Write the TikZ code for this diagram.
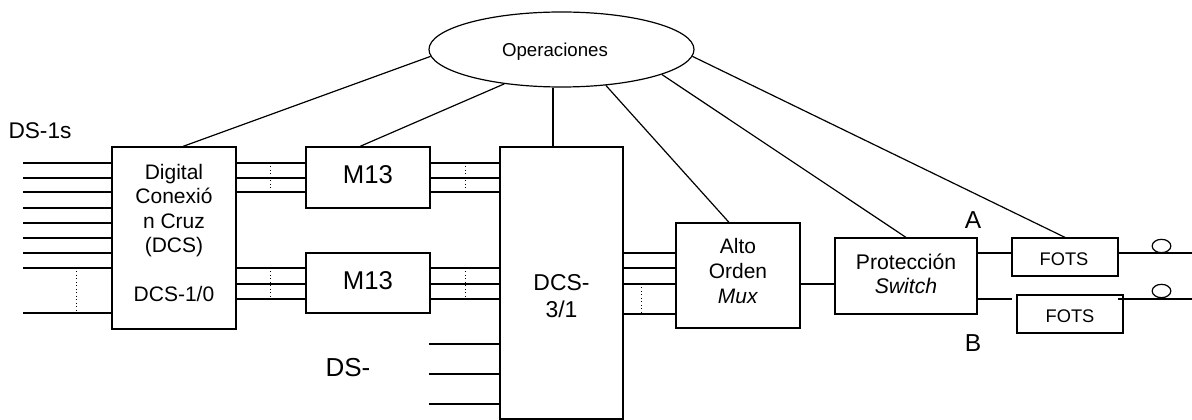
\documentclass[tikz,border=0pt]{standalone}
\usepackage{fontspec}
\setmainfont{Liberation Sans}
\usetikzlibrary{calc,shapes.geometric}
\newcommand{\fs}[2]{\fontsize{#1}{#2}\selectfont}
\begin{document}
\begin{tikzpicture}[x=0.75pt,y=-0.75pt,
  wire/.style={line width=0.9pt},
  dots/.style={line width=0.6pt, dotted},
  blk/.style={draw, line width=0.9pt, rectangle, inner sep=0pt},
  lbl/.style={inner sep=0pt, align=center},
]
\useasboundingbox[fill=white] (0,0) rectangle (1192,420);

% --- blocks ---
\node[draw, ellipse, line width=0.9pt, inner sep=0pt,
      minimum width=198.75pt, minimum height=56.25pt] (ops) at (561.5,49.5) {};
\node[blk, minimum width=93pt,    minimum height=136.5pt] (dcs10) at (174,238) {};
\node[blk, minimum width=93pt,    minimum height=45.75pt] (m13a)  at (368,177.5) {};
\node[blk, minimum width=93pt,    minimum height=45pt]    (m13b)  at (368,283) {};
\node[blk, minimum width=92.25pt, minimum height=204pt]   (dcs31) at (561.5,283) {};
\node[blk, minimum width=93pt,    minimum height=78.75pt] (alto)  at (738,275.5) {};
\node[blk, minimum width=106.5pt, minimum height=57pt]    (prot)  at (906,276) {};
\node[blk, minimum width=79.5pt,  minimum height=28.5pt]  (fotsa) at (1065,257) {};
\node[blk, line width=1.5pt, minimum width=79.5pt, minimum height=28.5pt] (fotsb) at (1070,314) {};

% --- texts ---
\node[lbl, font=\fs{14}{16.8}] (opst) at (555,52) {Operaciones};
\node[lbl, font=\fs{15.75}{18.4}] (dcs10t) at (174,233)
  {Digital\\Conexió\\n Cruz\\(DCS)\\[18.4pt]DCS-1/0};
\node[lbl, font=\fs{19.3}{23}] (m13at) at (368,175) {M13};
\node[lbl, font=\fs{19.3}{23}] (m13bt) at (368,281) {M13};
\node[lbl, font=\fs{17.2}{20.25}] (dcs31t) at (561.5,296) {DCS-\\3/1};
\node[lbl, font=\fs{15.7}{18.75}] (altot) at (738,271) {Alto\\Orden\\\textit{Mux}};
\node[lbl, font=\fs{15.9}{18}] (prott) at (906,274) {Protección\\\textit{Switch}};
\node[lbl, font=\fs{13.7}{16}] (fotsat) at (1064,259) {FOTS};
\begin{scope}
  \clip (1017,295) rectangle (1123,322);
  \node[lbl, font=\fs{13.7}{16}] (fotsbt) at (1070,316) {FOTS};
\end{scope}
\node[lbl, font=\fs{17}{20}] (ds1) at (40,131) {DS-1s};
\node[lbl, font=\fs{19.5}{23}] (ds3) at (348,368) {DS-};
\node[lbl, font=\fs{18.4}{22}] (la) at (973,220) {A};
\node[lbl, font=\fs{18.4}{22}] (lb) at (973,343) {B};

% --- management links to Operaciones ---
\draw[wire] ($(dcs10.north)+(9,0)$) -- (ops.183);
\draw[wire] ($(m13a.north)+(-8,0)$) -- (ops.211);
\draw[wire] ($(dcs31.north)+(-8.5,0)$) coordinate (v) -- (v |- ops.south);
\draw[wire] ($(alto.north)+(-9,0)$) -- (ops.321);
\draw[wire] (prot.north) -- (ops.346);
\draw[wire] (fotsa.north) -- (ops.357);

% --- DS-1 inputs ---
\coordinate (lin) at (23,0);
\foreach \y in {163,178,192,208,223,238,253,268,313}
  \draw[wire] (lin |- 0,\y) -- (dcs10.west |- 0,\y);
\draw[dots] (76,268) -- (76,313);

% --- DCS-1/0 to M13 ---
\foreach \y in {163,178,192}
  \draw[wire] (dcs10.east |- 0,\y) -- (m13a.west |- 0,\y);
\foreach \y in {268,284,299}
  \draw[wire] (dcs10.east |- 0,\y) -- (m13b.west |- 0,\y);
\draw[dots] (270,163) -- (270,192);
\draw[dots] (270,268) -- (270,299);

% --- M13 to DCS-3/1 ---
\foreach \y in {163,178,192}
  \draw[wire] (m13a.east |- 0,\y) -- (dcs31.west |- 0,\y);
\foreach \y in {268,284,299}
  \draw[wire] (m13b.east |- 0,\y) -- (dcs31.west |- 0,\y);
\draw[dots] (465,163) -- (465,192);
\draw[dots] (465,268) -- (465,299);

% --- DS-3 inputs ---
\coordinate (lds) at (429,0);
\foreach \y in {344,374,404}
  \draw[wire] (lds |- 0,\y) -- (dcs31.west |- 0,\y);

% --- DCS-3/1 to high order mux ---
\foreach \y in {253,268,284,314}
  \draw[wire] (dcs31.east |- 0,\y) -- (alto.west |- 0,\y);
\draw[dots] (641,284) -- (641,314);

% --- mux to protection switch ---
\draw[wire] (alto.east |- 0,284) -- (prot.west |- 0,284);

% --- protection switch to FOTS, line ends ---
\coordinate (rend) at (1192,0);
\draw[wire] (prot.east |- 0,253) -- (fotsa.west |- 0,253);
\draw[wire] (fotsa.east |- 0,253) -- (rend |- 0,253);
\draw[wire] (prot.east |- 0,299) -- ($(fotsb.west |- 0,299)+(-4,0)$);
\draw[wire] ($(fotsb.east |- 0,299)+(-6,0)$) -- (rend |- 0,299);
\node[draw, ellipse, line width=0.9pt, inner sep=0pt, fill=white,
      minimum width=14pt, minimum height=10pt] (ca) at (1161.5,246) {};
\node[draw, ellipse, line width=0.9pt, inner sep=0pt, fill=white,
      minimum width=14pt, minimum height=10pt] (cb) at (1161.5,291) {};
\end{tikzpicture}
\end{document}
